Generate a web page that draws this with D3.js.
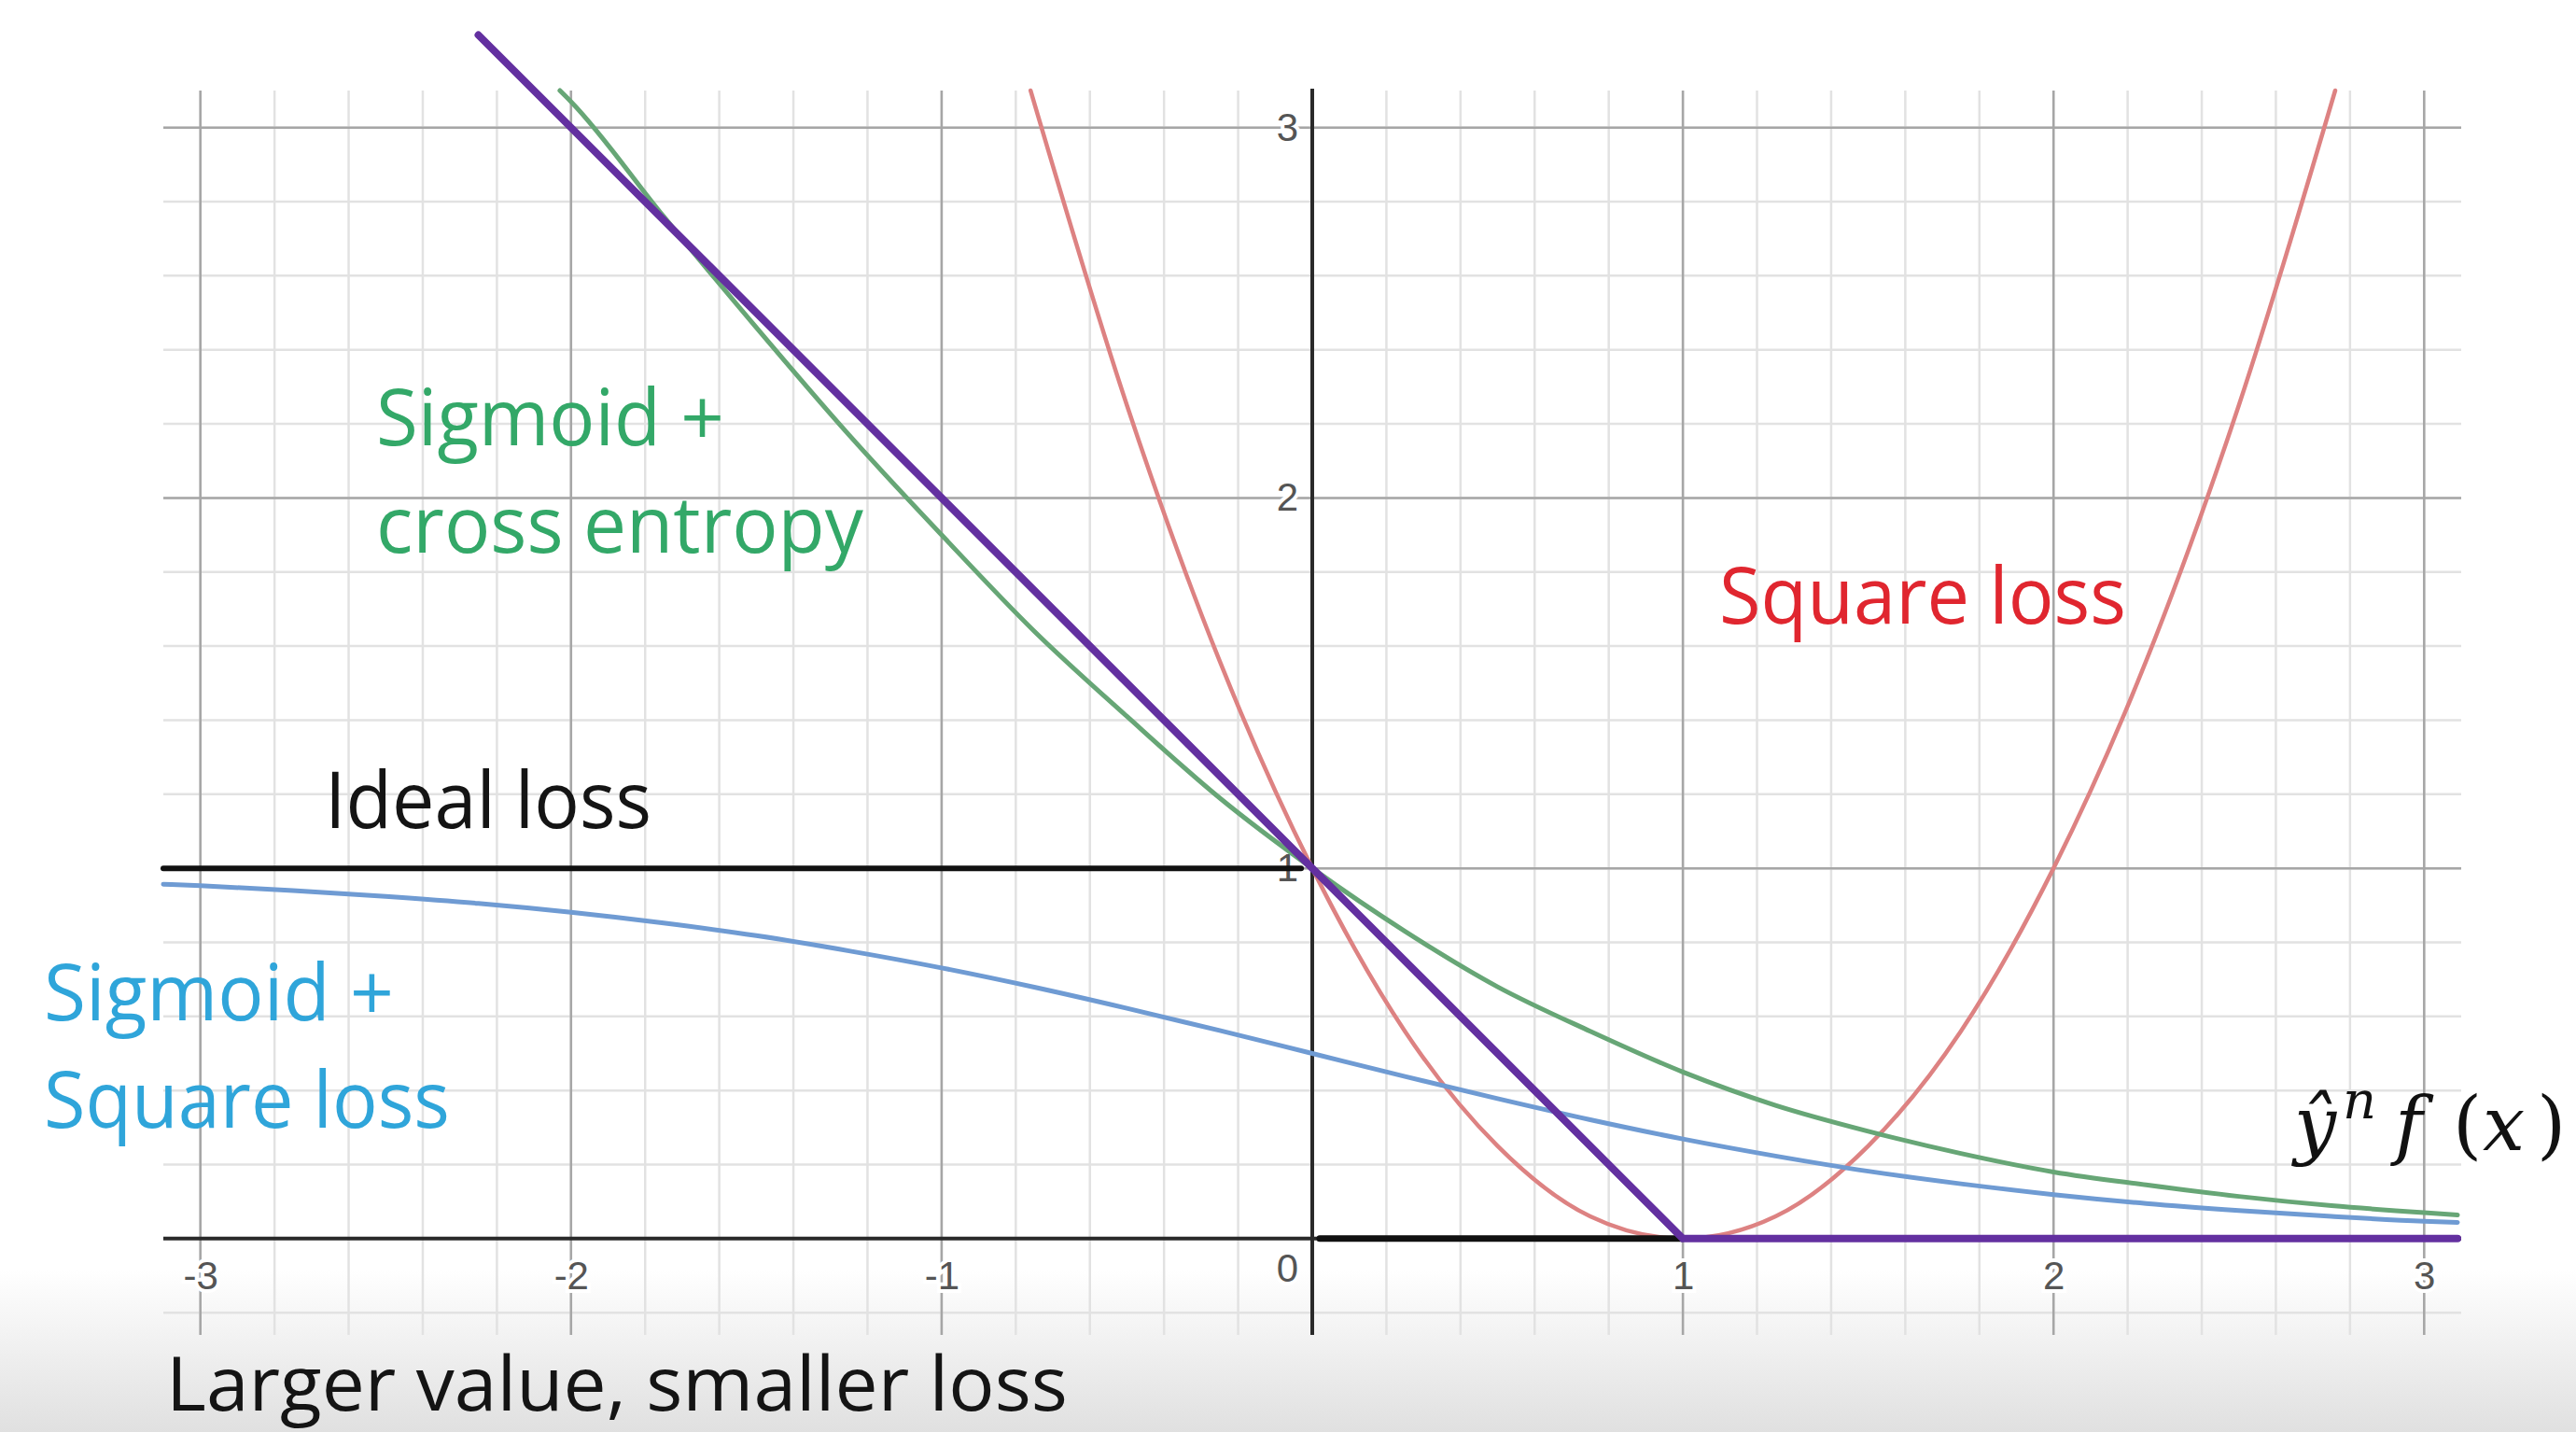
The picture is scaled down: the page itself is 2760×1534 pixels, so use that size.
<!DOCTYPE html>
<html><head><meta charset="utf-8">
<script src="https://cdn.jsdelivr.net/npm/d3@7"></script>
<style>html,body{margin:0;padding:0;background:#fff;overflow:hidden}</style>
</head><body>
<svg id="c" width="2760" height="1534"></svg>
<script>
// ---- data ----
const squareLossX = [-0.76,-0.5,-0.25,0,0.25,0.5,0.75,1,1.25,1.5,1.75,2,2.25,2.5,2.76];
const squareLossY = [3.10,2.25,1.56,1.0,0.56,0.25,0.06,0,0.06,0.25,0.56,1.0,1.56,2.25,3.10];

const crossEntX = [-2.03,-2,-1.75,-1.5,-1.25,-1,-0.75,-0.5,-0.25,0,0.25,0.5,0.75,1,1.25,1.5,1.75,2,2.25,2.5,2.75,3,3.09];
const crossEntY = [3.10,3.07,2.76,2.46,2.17,1.90,1.64,1.41,1.19,1.0,0.83,0.68,0.56,0.45,0.36,0.29,0.23,0.18,0.145,0.114,0.089,0.070,0.064];

const sigSqX = [-3.1,-3,-2.75,-2.5,-2.25,-2,-1.75,-1.5,-1.25,-1,-0.75,-0.5,-0.25,0,0.25,0.5,0.75,1,1.25,1.5,1.75,2,2.25,2.5,2.75,3,3.09];
const sigSqY = [0.957,0.953,0.940,0.924,0.905,0.881,0.852,0.818,0.777,0.731,0.679,0.622,0.562,0.5,0.438,0.378,0.321,0.269,0.223,0.182,0.148,0.119,0.095,0.076,0.060,0.047,0.044];

const hingeX = [-2.25, 1, 3.09];
const hingeY = [3.25, 0, 0];

const idealUpperX = [-3.1, -0.03];
const idealUpperY = [1, 1];
const idealLowerX = [0.02, 1];
const idealLowerY = [0, 0];

const xTickLabels = [-3, -2, -1, 1, 2, 3];
const yTickLabels = [1, 2, 3];

// ---- drawing ----
const svg = d3.select("#c");
const x = d3.scaleLinear().domain([-3.1, 3.1]).range([175, 2637]);
const y = d3.scaleLinear().domain([-0.26, 3.1]).range([1430, 97]);

// bottom gradient band
const defs = svg.append("defs");
const grad = defs.append("linearGradient").attr("id","bg").attr("x1",0).attr("x2",0).attr("y1",0).attr("y2",1);
grad.append("stop").attr("offset","0%").attr("stop-color","#ffffff");
grad.append("stop").attr("offset","100%").attr("stop-color","#e0e0e0");
svg.append("rect").attr("x",0).attr("y",1360).attr("width",2760).attr("height",174).attr("fill","url(#bg)");

const [x0, x1] = x.range();
const [yb, yt] = y.range();

// minor grid
const gMinor = svg.append("g").attr("stroke","#e2e2e2").attr("stroke-width",2.5);
gMinor.selectAll("line.v").data(x.ticks(30)).join("line")
  .attr("x1", d=>x(d)).attr("x2", d=>x(d)).attr("y1", yt).attr("y2", yb);
gMinor.selectAll("line.h").data(y.ticks(16)).join("line")
  .attr("y1", d=>y(d)).attr("y2", d=>y(d)).attr("x1", x0).attr("x2", x1);

// major grid
const gMajor = svg.append("g").attr("stroke","#a6a6a6").attr("stroke-width",2.5);
gMajor.selectAll("line.v").data(x.ticks(6).filter(d=>d!==0)).join("line")
  .attr("x1", d=>x(d)).attr("x2", d=>x(d)).attr("y1", yt).attr("y2", yb);
gMajor.selectAll("line.h").data(y.ticks(4).filter(d=>d>0)).join("line")
  .attr("y1", d=>y(d)).attr("y2", d=>y(d)).attr("x1", x0).attr("x2", x1);

// axes lines
svg.append("line").attr("x1", x0).attr("x2", x1).attr("y1", y(0)).attr("y2", y(0))
  .attr("stroke","#2a2a2a").attr("stroke-width",4);
svg.append("line").attr("x1", x(0)).attr("x2", x(0)).attr("y1", yt - 2).attr("y2", yb)
  .attr("stroke","#2a2a2a").attr("stroke-width",4);

// tick labels
function styleAxis(g){
  g.select(".domain").remove();
  g.attr("font-family","'Liberation Sans', Arial, sans-serif").attr("font-size",42);
  g.selectAll("text").attr("fill","#555")
    .attr("stroke","#fff").attr("stroke-width",8).attr("paint-order","stroke");
}
svg.append("g").attr("transform",`translate(0,${y(0)})`)
  .call(d3.axisBottom(x).tickValues(xTickLabels).tickSize(0).tickPadding(24).tickFormat(d=>String(d)))
  .call(styleAxis);
svg.append("g").attr("transform",`translate(${x(0)},0)`)
  .call(d3.axisLeft(y).tickValues(yTickLabels).tickSize(0).tickPadding(15).tickFormat(d=>String(d)))
  .call(styleAxis);
svg.append("text").attr("x", x(0)-15).attr("y", y(0)+46).attr("text-anchor","end")
  .attr("font-family","'Liberation Sans', Arial, sans-serif").attr("font-size",42).attr("fill","#555")
  .attr("stroke","#fff").attr("stroke-width",8).attr("paint-order","stroke").text("0");

// curves
const line = d3.line().x(d=>x(d[0])).y(d=>y(d[1])).curve(d3.curveMonotoneX);
const lin = d3.line().x(d=>x(d[0])).y(d=>y(d[1]));
function path(gen, xs, ys, color, w){
  svg.append("path").attr("d", gen(d3.zip(xs, ys))).attr("fill","none")
    .attr("stroke", color).attr("stroke-width", w)
    .attr("stroke-linecap","round").attr("stroke-linejoin","round");
}
path(line, squareLossX, squareLossY, "#dd8282", 4.5);
path(line, sigSqX, sigSqY, "#6f9bd3", 5);
path(line, crossEntX, crossEntY, "#67a676", 5);
path(lin, idealUpperX, idealUpperY, "#111111", 6);
path(lin, idealLowerX, idealLowerY, "#111111", 7);
path(lin, hingeX, hingeY, "#6330a0", 8);

// annotations
const FONT = "'Open Sans', 'Noto Sans', Lato, sans-serif";
function label(txt, px, py, len, color, size){
  svg.append("text").attr("x", px).attr("y", py).attr("font-family", FONT).attr("font-size", size || 84)
    .attr("fill", color).attr("textLength", len).attr("lengthAdjust","spacingAndGlyphs").text(txt);
}
label("Sigmoid +", 403, 477, 373, "#33a868");
label("cross entropy", 403, 592, 522, "#33a868");
label("Ideal loss", 348, 887, 350, "#141414");
label("Sigmoid +", 47, 1093, 375, "#2fa5da");
label("Square loss", 47, 1208, 435, "#2fa5da");
label("Square loss", 1842, 668, 436, "#e0262f");
label("Larger value, smaller loss", 178, 1511, 966, "#141414", 80);

// math label  ŷⁿ f(x)
const MF = "'DejaVu Serif', 'Liberation Serif', serif";
function m(txt, px, py, size, italic){
  svg.append("text").attr("x", px).attr("y", py).attr("font-family", MF).attr("font-size", size)
    .attr("font-style", italic ? "italic" : "normal").attr("fill","#111").text(txt);
}
m("ŷ", 2458, 1232, 80, true);
m("n", 2510, 1198, 56, true);
m("f", 2566, 1232, 80, true);
m("(", 2628, 1232, 80, false);
m("x", 2660, 1232, 80, true);
m(")", 2718, 1232, 80, false);
</script>
</body></html>
